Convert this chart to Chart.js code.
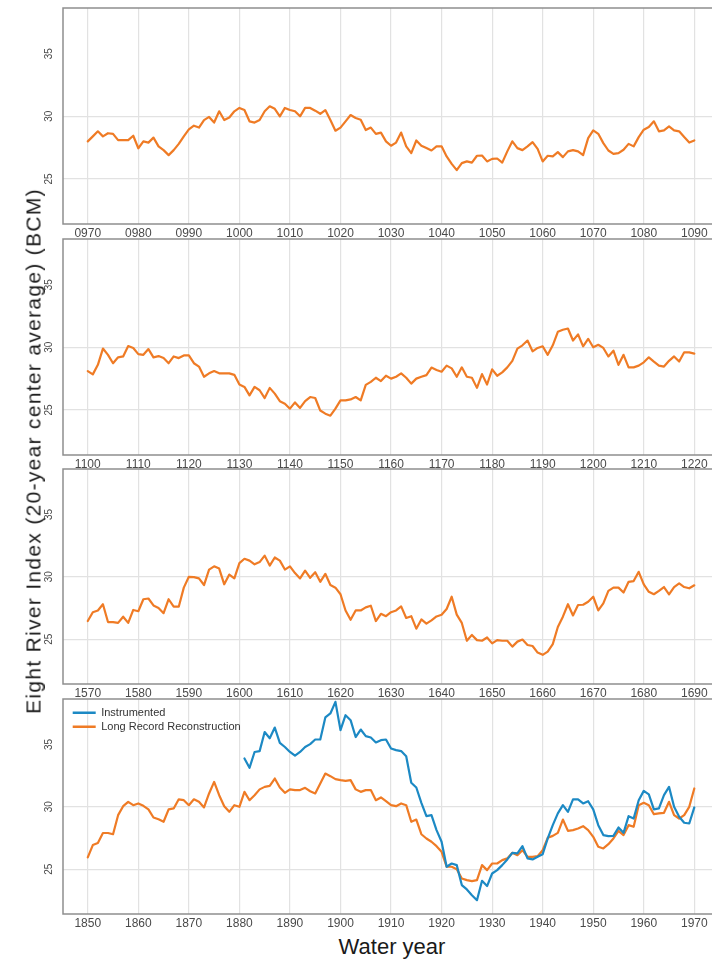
<!DOCTYPE html>
<html>
<head>
<meta charset="utf-8">
<title>Eight River Index</title>
<script src="https://cdn.jsdelivr.net/npm/chart.js@4.4.1/dist/chart.umd.min.js"></script>
<style>
  html, body { margin: 0; padding: 0; background: #fff; }
  body { width: 712px; height: 961px; position: relative; overflow: hidden; }
  canvas { position: absolute; left: 0; }
  .ytitle {
    position: absolute; left: 33px; top: 451px;
    transform: translate(-50%, -50%) rotate(-90deg);
    white-space: nowrap; font: 21px/21px "Liberation Sans", Arial, sans-serif; letter-spacing: 1.3px; color: #1a1a1a;
  }
  .xtitle {
    position: absolute; left: 392px; top: 936px; transform: translateX(-50%);
    white-space: nowrap; font: 22px/22px "Liberation Sans", Arial, sans-serif; color: #1a1a1a;
  }
</style>
</head>
<body>
<canvas id="p1"></canvas>
<canvas id="p2"></canvas>
<canvas id="p3"></canvas>
<canvas id="p4"></canvas>
<div class="ytitle">Eight River Index (20-year center average) (BCM)</div>
<div class="xtitle">Water year</div>
<script>
// first year of each series (one value per year after that)
const start1 = 970;
const start2 = 1100;
const start3 = 1570;
const start4 = 1850;
const startInstr = 1881;

// Long Record Reconstruction, 0970-1090
const recon1 = [
  28.0, 28.4, 28.8, 28.4, 28.65, 28.6, 28.1, 28.1, 28.1, 28.45,
  27.45, 28.0, 27.9, 28.3, 27.6, 27.3, 26.9, 27.3, 27.8, 28.4,
  28.95, 29.25, 29.1, 29.7, 29.95, 29.5, 30.4, 29.7, 29.9, 30.4,
  30.67, 30.5, 29.6, 29.5, 29.7, 30.4, 30.8, 30.6, 30.0, 30.67,
  30.5, 30.4, 30.0, 30.67, 30.67, 30.45, 30.2, 30.5, 29.7, 28.85,
  29.1, 29.6, 30.1, 29.87, 29.73, 28.9, 29.1, 28.6, 28.7, 28.0,
  27.65, 27.9, 28.7, 27.6, 27.06, 28.07, 27.65, 27.46, 27.27, 27.6,
  27.6, 26.8, 26.2, 25.7, 26.26, 26.4, 26.3, 26.85, 26.87, 26.4,
  26.6, 26.63, 26.3, 27.2, 28.0, 27.46, 27.3, 27.6, 27.94, 27.4,
  26.4, 26.85, 26.8, 27.14, 26.74, 27.2, 27.3, 27.2, 26.9, 28.26,
  28.88, 28.6, 27.86, 27.27, 27.0, 27.06, 27.33, 27.8, 27.6, 28.34,
  28.93, 29.14, 29.6, 28.8, 28.88, 29.2, 28.88, 28.8, 28.34, 27.9,
  28.07
];

// Long Record Reconstruction, 1100-1220
const recon2 = [
  28.1, 27.84, 28.6, 29.9, 29.4, 28.73, 29.2, 29.27, 30.1, 29.95,
  29.46, 29.4, 29.86, 29.2, 29.3, 29.14, 28.73, 29.27, 29.14, 29.35,
  29.35, 28.73, 28.46, 27.65, 27.92, 28.1, 27.92, 27.92, 27.92, 27.8,
  27.03, 26.84, 26.16, 26.84, 26.57, 25.95, 26.76, 26.3, 25.7, 25.5,
  25.1, 25.6, 25.16, 25.7, 26.03, 25.95, 24.95, 24.7, 24.54, 25.1,
  25.76, 25.76, 25.84, 26.03, 25.76, 27.0, 27.24, 27.57, 27.3, 27.73,
  27.5, 27.65, 27.92, 27.57, 27.1, 27.5, 27.65, 27.78, 28.38, 28.19,
  28.05, 28.54, 28.32, 27.65, 28.4, 27.65, 27.57, 26.76, 27.86, 27.03,
  28.24, 27.73, 28.0, 28.4, 28.92, 29.9, 30.16, 30.54, 29.68, 29.95,
  30.08, 29.4, 30.16, 31.24, 31.4, 31.5, 30.54, 31.03, 30.08, 30.68,
  30.0, 30.2, 29.95, 29.27, 29.73, 28.6, 29.4, 28.4, 28.4, 28.54,
  28.8, 29.2, 28.86, 28.54, 28.46, 28.92, 29.27, 28.86, 29.6, 29.6,
  29.5
];

// Long Record Reconstruction, 1570-1690
const recon3 = [
  26.45, 27.16, 27.3, 27.8, 26.37, 26.37, 26.3, 26.8, 26.3, 27.34,
  27.24, 28.2, 28.26, 27.7, 27.5, 27.08, 28.2, 27.6, 27.6, 29.13,
  30.0, 29.97, 29.87, 29.34, 30.58, 30.84, 30.66, 29.4, 30.18, 29.87,
  31.1, 31.45, 31.3, 31.0, 31.18, 31.7, 30.9, 31.55, 31.3, 30.58,
  30.84, 30.3, 29.87, 30.5, 29.92, 30.37, 29.6, 30.24, 29.34, 29.13,
  28.6, 27.3, 26.55, 27.3, 27.3, 27.55, 27.68, 26.45, 27.03, 26.84,
  27.16, 27.3, 27.63, 26.7, 26.84, 25.84, 26.58, 26.24, 26.5, 26.82,
  26.95, 27.42, 28.4, 26.97, 26.3, 24.87, 25.34, 24.92, 24.87, 25.13,
  24.66, 24.92, 24.87, 24.87, 24.4, 24.8, 24.97, 24.53, 24.45, 23.92,
  23.74, 24.0, 24.6, 25.97, 26.8, 27.8, 26.9, 27.74, 27.76, 28.0,
  28.4, 27.3, 27.87, 28.87, 29.13, 29.13, 28.74, 29.6, 29.66, 30.4,
  29.4, 28.8, 28.6, 28.87, 29.18, 28.6, 29.18, 29.47, 29.18, 29.08,
  29.32
];

// Long Record Reconstruction, 1850-1970
const recon4 = [
  25.94, 26.93, 27.1, 27.9, 27.9, 27.8, 29.33, 30.05, 30.4, 30.13,
  30.27, 30.08, 29.8, 29.14, 29.0, 28.8, 29.8, 29.87, 30.6, 30.53,
  30.13, 30.6, 30.4, 29.95, 31.07, 32.0, 30.93, 30.05, 29.6, 30.13,
  30.0, 31.2, 30.53, 30.93, 31.4, 31.6, 31.68, 32.27, 31.55, 31.12,
  31.4, 31.34, 31.34, 31.52, 31.25, 31.07, 31.87, 32.67, 32.46, 32.22,
  32.14, 32.08, 32.14, 31.4, 31.2, 31.34, 31.34, 30.53, 30.75, 30.45,
  30.13, 30.05, 30.27, 30.13, 28.8, 28.98, 27.8, 27.46, 27.2, 26.84,
  26.39, 25.19, 25.19, 25.0, 24.25, 24.12, 24.04, 24.12, 25.32, 24.92,
  25.45, 25.45, 25.72, 25.86, 26.31, 26.12, 26.52, 25.99, 25.99, 26.04,
  26.52, 27.51, 27.67, 27.91, 28.98, 28.07, 28.13, 28.26, 28.45, 28.13,
  27.59, 26.79, 26.66, 27.0, 27.46, 28.07, 27.73, 28.53, 28.4, 30.13,
  30.32, 30.13, 29.41, 29.47, 29.52, 30.4, 29.33, 29.06, 29.33, 30.0,
  31.47
];

// Instrumented, 1881-1970
const instr4 = [
  33.88, 33.13, 34.4, 34.47, 36.0, 35.5, 36.36, 35.13, 34.8, 34.4,
  34.1, 34.4, 34.8, 35.03, 35.4, 35.4, 37.17, 37.49, 38.42, 36.15,
  37.35, 36.95, 35.6, 36.2, 35.67, 35.56, 35.16, 35.35, 35.4, 34.68,
  34.55, 34.47, 34.06, 31.93, 31.55, 30.32, 29.25, 29.33, 28.13, 27.2,
  25.19, 25.45, 25.32, 23.72, 23.37, 22.91, 22.51, 24.06, 23.64, 24.65,
  24.92, 25.32, 25.78, 26.31, 26.26, 26.84, 25.86, 25.78, 25.99, 26.2,
  27.46, 28.53, 29.47, 30.13, 29.6, 30.59, 30.59, 30.27, 30.45, 29.79,
  28.53, 27.73, 27.65, 27.67, 28.34, 27.91, 29.25, 29.06, 30.53, 31.28,
  31.0, 29.79, 29.87, 30.94, 31.6, 30.0, 29.2, 28.72, 28.66, 29.95
];

const yTicks = [25, 30, 35];
const seriesNames = ['Instrumented', 'Long Record Reconstruction'];

const ORANGE = '#ef7b25';
const BLUE = '#1c89c4';
const GRID = '#e2e2e2';

Chart.defaults.font.family = '"Liberation Sans", Arial, sans-serif';

function toPoints(startYear, values) {
  return values.map((v, i) => ({ x: startYear + i, y: v }));
}

// grey frame on top, left and bottom of the plot area
const framePlugin = {
  id: 'frame',
  beforeDatasetsDraw(chart) {
    const { ctx, chartArea: a } = chart;
    ctx.save();
    ctx.strokeStyle = '#8e8e8e';
    ctx.lineWidth = 1.5;
    ctx.beginPath();
    ctx.moveTo(a.right + 2, a.top);
    ctx.lineTo(a.left, a.top);
    ctx.lineTo(a.left, a.bottom);
    ctx.lineTo(a.right + 2, a.bottom);
    ctx.stroke();
    ctx.restore();
  }
};

// put the legend inside the plot, top left
const legendInside = {
  id: 'legendInside',
  beforeLayout(chart) {
    const lg = chart.legend;
    if (!lg || lg._inside) return;
    const fit = lg.fit;
    lg.fit = function () { fit.call(this); this.width = 0; };
    lg._inside = true;
  },
  afterLayout(chart) {
    const lg = chart.legend;
    if (!lg) return;
    const a = chart.chartArea;
    lg.left = a.left + 6.7;
    lg.top = a.top + 5.2;
    lg.width = 300;
    lg.height = 100;
    lg.right = lg.left + 300;
    lg.bottom = lg.top + 100;
  }
};

function makePanel(id, startYear, plotTop, plotBottom, datasets, withLegend) {
  const padTop = 16, axisH = 20;
  const canvas = document.getElementById(id);
  canvas.width = 712;
  canvas.height = plotBottom - plotTop + padTop + axisH;
  canvas.style.top = (plotTop - padTop) + 'px';

  return new Chart(canvas, {
    type: 'line',
    data: { datasets },
    options: {
      responsive: false,
      animation: false,
      layout: { padding: { top: padTop, left: 0, right: 0, bottom: 0 } },
      elements: {
        point: { radius: 0, borderWidth: 2.4 },
        line: { borderWidth: 2.2, tension: 0, borderJoinStyle: 'round', borderCapStyle: 'round' }
      },
      scales: {
        x: {
          type: 'linear',
          min: startYear - 4.9,
          max: startYear + 123.5,
          afterFit: s => { s.height = axisH; },
          border: { display: false },
          grid: { color: GRID, lineWidth: 1.2, drawTicks: false },
          ticks: {
            stepSize: 10,
            includeBounds: false,
            autoSkip: false,
            maxRotation: 0,
            padding: 2.5,
            color: '#4a4a4a',
            font: { size: 12 },
            callback: v => String(v).padStart(4, '0')
          }
        },
        y: {
          min: 21.4,
          max: 38.65,
          afterFit: s => { s.width = 63; },
          afterBuildTicks: s => { s.ticks = yTicks.map(v => ({ value: v })); },
          border: { display: false },
          grid: {
            drawTicks: false,
            lineWidth: 1.2,
            color: c => (c.tick && c.tick.value === 35) ? 'rgba(0,0,0,0)' : GRID
          },
          ticks: {
            minRotation: 90,
            maxRotation: 90,
            crossAlign: 'center',
            padding: 8.5,
            color: '#4a4a4a',
            font: { size: 10 }
          }
        }
      },
      plugins: {
        tooltip: { enabled: false },
        legend: {
          display: withLegend,
          position: 'left',
          align: 'start',
          labels: {
            usePointStyle: true,
            pointStyle: 'line',
            pointStyleWidth: 23,
            padding: 3,
            color: '#333',
            font: { size: 11 }
          }
        }
      }
    },
    plugins: [framePlugin, legendInside]
  });
}

function reconSet(startYear, values) {
  return { label: seriesNames[1], data: toPoints(startYear, values), borderColor: ORANGE, backgroundColor: ORANGE };
}

makePanel('p1', start1, 8, 224, [reconSet(start1, recon1)], false);
makePanel('p2', start2, 239, 455, [reconSet(start2, recon2)], false);
makePanel('p3', start3, 469, 684, [reconSet(start3, recon3)], false);
makePanel('p4', start4, 699, 914, [
  { label: seriesNames[0], data: toPoints(startInstr, instr4), borderColor: BLUE, backgroundColor: BLUE },
  reconSet(start4, recon4)
], true);
</script>
</body>
</html>
